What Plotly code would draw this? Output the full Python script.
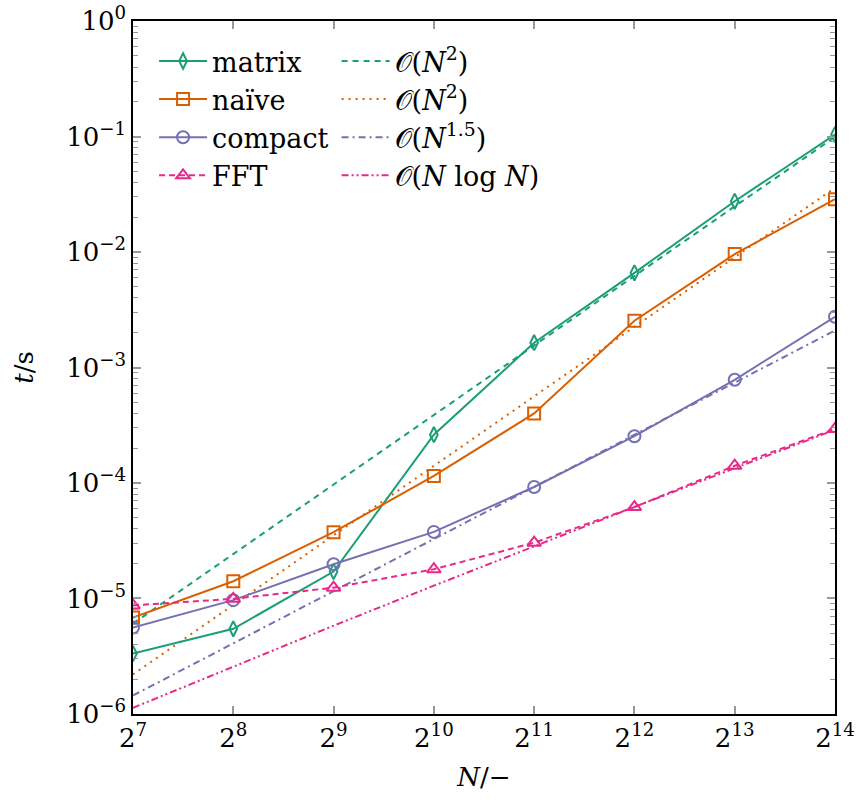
import plotly.graph_objects as go

N = [2**7, 2**8, 2**9, 2**10, 2**11, 2**12, 2**13, 2**14]

t_matrix = [3.33e-6, 5.46e-6, 1.71e-5, 2.62e-4, 1.64e-3, 6.6e-3, 2.75e-2, 0.104]
t_naive = [6.83e-6, 1.41e-5, 3.75e-5, 1.15e-4, 4.0e-4, 2.54e-3, 9.6e-3, 2.87e-2]
t_compact = [5.6e-6, 9.67e-6, 1.98e-5, 3.77e-5, 9.23e-5, 2.54e-4, 7.83e-4, 2.75e-3]
t_fft = [8.71e-6, 9.93e-6, 1.24e-5, 1.79e-5, 3.04e-5, 6.18e-5, 1.41e-4, 2.94e-4]

ref_matrix = [6.06e-6, 2.42e-5, 9.7e-5, 3.88e-4, 1.55e-3, 6.2e-3, 2.48e-2, 9.93e-2]
ref_naive = [2.2e-6, 8.8e-6, 3.52e-5, 1.41e-4, 5.63e-4, 2.25e-3, 9.0e-3, 3.6e-2]
ref_compact = [1.445e-6, 4.087e-6, 1.156e-5, 3.27e-5, 9.25e-5, 2.616e-4, 7.40e-4, 2.093e-3]
ref_fft = [1.13e-6, 2.58e-6, 5.81e-6, 1.29e-5, 2.84e-5, 6.2e-5, 1.343e-4, 2.89e-4]

x_ticktext = ["2<sup>%d</sup>" % k for k in range(7, 15)]
y_tickvals = [1e-6, 1e-5, 1e-4, 1e-3, 1e-2, 1e-1, 1e0]
y_ticktext = ["10<sup>−6</sup>", "10<sup>−5</sup>", "10<sup>−4</sup>", "10<sup>−3</sup>",
              "10<sup>−2</sup>", "10<sup>−1</sup>", "10<sup>0</sup>"]

GREEN, ORANGE, PURPLE, PINK = "#1b9e77", "#d95f02", "#7570b3", "#e7298a"
FONT = "DejaVu Serif"
FS = 26

fig = go.Figure()

def data_trace(y, name, color, symbol, dash="solid", size=11):
    return go.Scatter(x=N, y=y, name=name, mode="lines+markers",
                      line=dict(color=color, width=2, dash=dash),
                      marker=dict(symbol=symbol, size=size, color=color,
                                  line=dict(color=color, width=2)),
                      legend="legend")

def ref_trace(y, name, color, dash):
    return go.Scatter(x=N, y=y, name=name, mode="lines",
                      line=dict(color=color, width=2, dash=dash),
                      legend="legend2")

fig.add_trace(ref_trace(ref_matrix, "𝒪(<i>N</i><sup>2</sup>)", GREEN, "6px,5px"))
fig.add_trace(ref_trace(ref_naive, "𝒪(<i>N</i><sup>2</sup>)", ORANGE, "2px,5px"))
fig.add_trace(ref_trace(ref_compact, "𝒪(<i>N</i><sup>1.5</sup>)", PURPLE, "7px,4px,2px,4px"))
fig.add_trace(ref_trace(ref_fft, "𝒪(<i>N</i> log <i>N</i>)", PINK, "7px,3px,2px,3px,2px,3px"))

fig.add_trace(data_trace(t_matrix, "matrix", GREEN, "diamond-tall-open", size=11))
fig.add_trace(data_trace(t_naive, "naïve", ORANGE, "square-open", size=12))
fig.add_trace(data_trace(t_compact, "compact", PURPLE, "circle-open", size=12))
fig.add_trace(data_trace(t_fft, "FFT", PINK, "triangle-up-open", dash="6px,4px", size=12))

fig.update_layout(
    width=856, height=806,
    margin=dict(l=133, r=21, t=21, b=92),
    paper_bgcolor="white", plot_bgcolor="white",
    font=dict(family=FONT, size=FS, color="black"),
    showlegend=True,
    legend=dict(x=0.03, y=0.977, xanchor="left", yanchor="top",
                bgcolor="rgba(0,0,0,0)", font=dict(size=FS + 1, family=FONT),
                itemwidth=48, traceorder="normal", tracegroupgap=0),
    legend2=dict(x=0.29, y=0.977, xanchor="left", yanchor="top",
                 bgcolor="rgba(0,0,0,0)", font=dict(size=FS + 1, family=FONT),
                 itemwidth=48, traceorder="normal", tracegroupgap=0),
    xaxis=dict(type="log", range=[2.10721, 4.21442], automargin=False,
               tickvals=N, ticktext=x_ticktext, ticklabeloverflow="allow",
               ticks="inside", ticklen=8, tickwidth=1.5, tickcolor="#999999",
               showline=True, linecolor="black", linewidth=1.5, mirror="allticks",
               showgrid=False, zeroline=False,
               tickfont=dict(size=FS, family=FONT),
               title=dict(text="<i>N</i>/−", font=dict(size=FS, family=FONT), standoff=16)),
    yaxis=dict(type="log", range=[-6.0005, 0.0005], automargin=False,
               tickvals=y_tickvals, ticktext=y_ticktext, ticklabeloverflow="allow",
               ticks="inside", ticklen=8, tickwidth=1.5, tickcolor="#999999",
               showline=True, linecolor="black", linewidth=1.5, mirror="allticks",
               showgrid=False, zeroline=False,
               minor=dict(ticks="inside", ticklen=5, tickwidth=1.2, tickcolor="#999999",
                          dtick="D1", showgrid=False),
               tickfont=dict(size=FS, family=FONT),
               title=dict(text="<i>t</i>/s", font=dict(size=FS, family=FONT), standoff=25)),
)

fig.write_html("out.html")
